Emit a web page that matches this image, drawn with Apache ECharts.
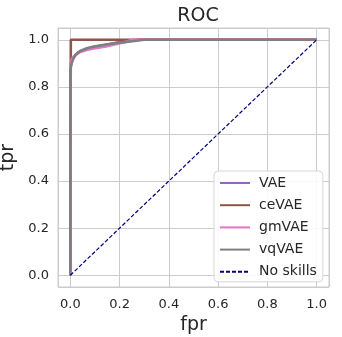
<!DOCTYPE html>
<html>
<head>
<meta charset="utf-8">
<script src="https://cdn.jsdelivr.net/npm/echarts@6/dist/echarts.min.js"></script>
<style>
  html, body { margin: 0; padding: 0; background: #fff; }
  #chart { width: 342px; height: 337px; }
</style>
</head>
<body>
<div id="chart"></div>
<script>
// ROC curves
var vaeFpr   = [0, 0, 0.01, 0.03, 0.06, 0.1, 0.15, 0.2, 0.28, 1.0];
var vaeTpr   = [0, 0.88, 0.92, 0.945, 0.96, 0.97, 0.98, 0.99, 1.0, 1.0];
var ceFpr    = [0, 0.002, 1.0];
var ceTpr    = [0, 1.0, 1.0];
var gmFpr    = [0, 0, 0.005, 0.01, 0.02, 0.04, 0.07, 0.1, 0.14, 0.18, 0.22, 0.25, 1.0];
var gmTpr    = [0, 0.9, 0.915, 0.925, 0.935, 0.948, 0.958, 0.964, 0.97, 0.98, 0.99, 1.0, 1.0];
var vqFpr    = [0, 0, 0.005, 0.01, 0.02, 0.04, 0.07, 0.1, 0.14, 0.18, 0.22, 0.26, 0.3, 1.0];
var vqTpr    = [0, 0.87, 0.9, 0.915, 0.935, 0.952, 0.965, 0.972, 0.979, 0.985, 0.99, 0.995, 1.0, 1.0];
var skillFpr = [0, 1];
var skillTpr = [0, 1];

function pairs(xs, ys) {
  var out = [];
  for (var i = 0; i < xs.length; i++) out.push([xs[i], ys[i]]);
  return out;
}

var txt = '#262626';
var gridCol = '#cccccc';
var font = 'DejaVu Sans';

function tickFmt(v) {
  var r = Math.round(v * 5);
  if (Math.abs(v * 5 - r) > 1e-6) return '';
  return (r / 5).toFixed(1);
}

function axis(name, gap, rot, margin) {
  return {
    type: 'value',
    min: -0.05, max: 1.05,
    splitNumber: 5,
    name: name, nameLocation: 'middle', nameGap: gap, nameRotate: rot,
    nameTextStyle: { fontFamily: font, fontSize: 19, color: txt },
    axisLine: { show: false },
    axisTick: { show: false },
    axisLabel: { fontFamily: font, fontSize: 13, color: txt, margin: margin, formatter: tickFmt, showMinLabel: true, showMaxLabel: true },
    splitLine: { show: true, lineStyle: { color: gridCol, width: 1 } }
  };
}

function curve(name, color, xs, ys) {
  return {
    name: name, type: 'line', data: pairs(xs, ys),
    symbol: 'none', smooth: false, animation: false,
    lineStyle: { color: color, width: 2.6 }, itemStyle: { color: color }
  };
}

var chart = echarts.init(document.getElementById('chart'));
chart.setOption({
  animation: false,
  backgroundColor: '#fff',
  title: {
    text: 'ROC', left: 193, top: 2, textAlign: 'center',
    textStyle: { fontFamily: font, fontSize: 19, fontWeight: 'normal', color: txt }
  },
  grid: {
    left: 58, right: 13, top: 28, bottom: 50, outerBoundsMode: 'none', containLabel: false,
    show: true, borderColor: gridCol, borderWidth: 1
  },
  xAxis: axis('fpr', 29, 0, 11),
  yAxis: axis('tpr', 38, 90, 9),
  legend: {
    orient: 'vertical', left: 214, top: 171,
    padding: [5, 6, 3, 5], itemGap: 8.2, itemWidth: 30, itemHeight: 14,
    itemStyle: { opacity: 0 },
    backgroundColor: 'rgba(255,255,255,0.85)', borderColor: '#d6d6d6', borderWidth: 1, borderRadius: 4,
    textStyle: { fontFamily: font, fontSize: 14, color: txt, padding: [0, 0, 0, 4] },
    data: ['VAE', 'ceVAE', 'gmVAE', 'vqVAE', 'No skills']
  },
  series: [
    curve('VAE', '#9467bd', vaeFpr, vaeTpr),
    curve('ceVAE', '#8c564b', ceFpr, ceTpr),
    curve('gmVAE', '#e377c2', gmFpr, gmTpr),
    curve('vqVAE', '#7f7f7f', vqFpr, vqTpr),
    {
      name: 'No skills', type: 'line', data: pairs(skillFpr, skillTpr),
      symbol: 'none', animation: false,
      lineStyle: { color: '#000080', width: 1.2, type: [4, 2] }, itemStyle: { color: '#000080' }
    }
  ]
});
</script>
</body>
</html>
